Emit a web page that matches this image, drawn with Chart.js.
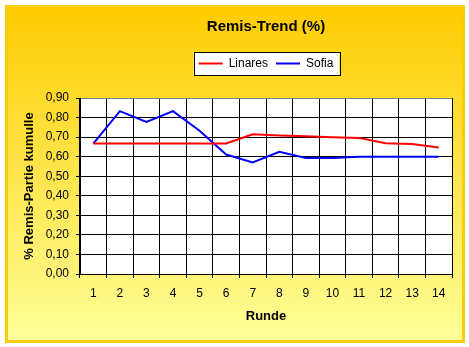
<!DOCTYPE html>
<html>
<head>
<meta charset="utf-8">
<script src="https://cdn.jsdelivr.net/npm/chart.js@4/dist/chart.umd.min.js"></script>
<style>
  html, body { margin: 0; padding: 0; background: #ffffff; }
  #wrap { width: 469px; height: 347px; }
  canvas { display: block; }
</style>
</head>
<body>
<div id="wrap"><canvas id="c" width="469" height="347"></canvas></div>
<script>
// ---- data ----
const rounds = ['1','2','3','4','5','6','7','8','9','10','11','12','13','14'];
const linares = [0.667,0.667,0.667,0.667,0.667,0.667,0.714,0.708,0.704,0.699,0.696,0.669,0.665,0.647];
const sofia   = [0.667,0.833,0.778,0.833,0.733,0.611,0.571,0.625,0.593,0.593,0.600,0.600,0.600,0.600];
const yTickLabels = ['0,00','0,10','0,20','0,30','0,40','0,50','0,60','0,70','0,80','0,90'];
const seriesNames = ['Linares','Sofia'];
const chartTitle = 'Remis-Trend (%)';
const yTitle = '% Remis-Partie kumulle';
const xTitle = 'Runde';

const FONT = '"Liberation Sans", Arial, Helvetica, sans-serif';

const backgroundPlugin = {
  id: 'bgFrame',
  beforeDraw(chart) {
    const ctx = chart.ctx;
    ctx.save();
    ctx.fillStyle = '#ffffff';
    ctx.fillRect(0, 0, chart.width, chart.height);
    // frame with vertical gradient
    const fx = 5, fy = 5, fw = 460, fh = 338;
    const g = ctx.createLinearGradient(0, fy, 0, fy + fh);
    g.addColorStop(0, '#FFCC00');
    g.addColorStop(1, '#FFFF99');
    ctx.fillStyle = g;
    ctx.fillRect(fx, fy, fw, fh);
    ctx.strokeStyle = '#FFCC00';
    ctx.lineWidth = 3;
    ctx.strokeRect(fx + 1.5, fy + 1.5, fw - 3, fh - 3);
    // plot area
    const a = chart.chartArea;
    ctx.fillStyle = '#ffffff';
    ctx.fillRect(a.left, a.top, a.right - a.left, a.bottom - a.top);
    // legend box
    const hb = chart.legend && chart.legend.legendHitBoxes;
    if (hb && hb.length) {
      const l = hb[0].left - 5;
      const r = hb[hb.length - 1].left + hb[hb.length - 1].width + 6;
      const t = hb[0].top - 5.5;
      const b = hb[0].top + hb[0].height + 5.5;
      ctx.fillStyle = '#ffffff';
      ctx.fillRect(l, t, r - l, b - t);
      ctx.strokeStyle = '#000000';
      ctx.lineWidth = 1;
      ctx.strokeRect(Math.round(l) + 0.5, Math.round(t) + 0.5, Math.round(r - l), Math.round(b - t));
    }
    ctx.restore();
  }
};

new Chart(document.getElementById('c'), {
  type: 'line',
  data: {
    labels: rounds,
    datasets: [
      { label: seriesNames[0], data: linares, borderColor: '#FF0000', backgroundColor: '#FF0000',
        borderWidth: 2, pointRadius: 0, tension: 0, fill: false },
      { label: seriesNames[1], data: sofia, borderColor: '#0000FF', backgroundColor: '#0000FF',
        borderWidth: 2, pointRadius: 0, tension: 0, fill: false }
    ]
  },
  options: {
    responsive: false,
    devicePixelRatio: 1,
    animation: false,
    layout: { padding: { left: 5, right: 17, top: 5, bottom: 4 } },
    plugins: {
      tooltip: { enabled: false },
      title: {
        display: true, text: chartTitle, fullSize: false,
        color: '#000000',
        font: { family: FONT, size: 15, weight: 'bold', lineHeight: 1.2 },
        padding: { top: 13, bottom: 13.5 }
      },
      subtitle: {
        display: true, text: '', fullSize: false, weight: 500,
        font: { family: FONT, size: 1, lineHeight: 1 },
        padding: { top: 17.5, bottom: 0 }
      },
      legend: {
        display: true, position: 'top', fullSize: false,
        labels: {
          color: '#000000',
          font: { family: FONT, size: 12 },
          usePointStyle: true, pointStyle: 'line', pointStyleWidth: 24,
          padding: 8
        }
      }
    },
    scales: {
      x: {
        type: 'category',
        offset: true,
        grid: {
          offset: true, drawTicks: true, tickLength: 4,
          color: (c) => (c.index === rounds.length ? '#808080' : '#000000'),
          tickColor: '#000000', lineWidth: 1
        },
        border: { color: '#000000', width: 1 },
        ticks: { color: '#000000', font: { family: FONT, size: 12 }, padding: 8, maxRotation: 0, autoSkip: false },
        title: {
          display: true, text: xTitle, color: '#000000',
          font: { family: FONT, size: 13, weight: 'bold', lineHeight: 1.2 },
          padding: { top: 0, bottom: 19 }
        },
        afterFit(scale) { scale.height = 69; }
      },
      y: {
        min: 0, max: 0.9,
        ticks: {
          stepSize: 0.1, color: '#000000', font: { family: FONT, size: 12 }, padding: 7,
          callback: (v, i) => yTickLabels[i]
        },
        grid: {
          drawTicks: true, tickLength: 4,
          color: (c) => (c.index === yTickLabels.length - 1 ? '#808080' : '#000000'),
          tickColor: '#000000', lineWidth: 1
        },
        border: { color: '#000000', width: 1 },
        title: {
          display: true, text: yTitle, color: '#000000',
          font: { family: FONT, size: 13, weight: 'bold', lineHeight: 1.2 },
          padding: { top: 17, bottom: 0 }
        },
        afterFit(scale) { scale.width = 75; }
      }
    }
  },
  plugins: [backgroundPlugin]
});
</script>
</body>
</html>
